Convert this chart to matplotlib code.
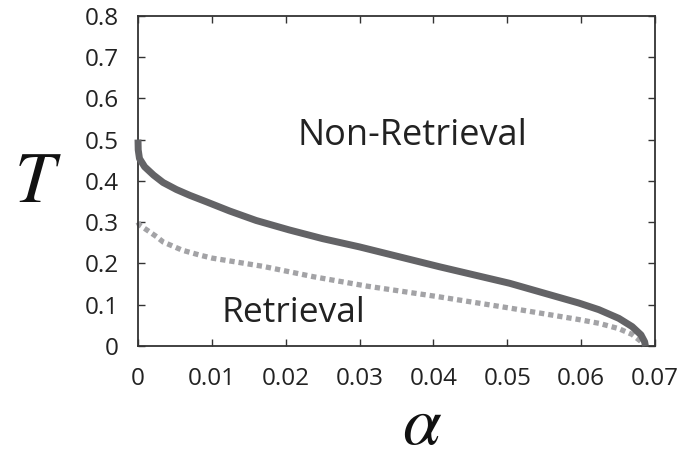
import matplotlib
matplotlib.use("Agg")
import matplotlib.pyplot as plt

# Solid boundary
alpha_solid = [0.0, 0.00003, 0.0002, 0.0009, 0.0021, 0.0034, 0.0052, 0.0070,
               0.0093, 0.0124, 0.0160, 0.0205, 0.0250, 0.030, 0.0408, 0.0503,
               0.0597, 0.0624, 0.0651, 0.0669, 0.0681, 0.0686, 0.0687]
T_solid = [0.500, 0.475, 0.454, 0.434, 0.414, 0.396, 0.379, 0.365,
           0.349, 0.327, 0.304, 0.281, 0.260, 0.240, 0.192, 0.152,
           0.104, 0.088, 0.067, 0.047, 0.027, 0.010, 0.0]

# Dotted boundary
alpha_dot = [0.0, 0.0002, 0.0012, 0.0025, 0.0034, 0.0060, 0.0084, 0.010,
             0.0169, 0.0237, 0.031, 0.0408, 0.0503, 0.0597, 0.0624, 0.0651,
             0.0669, 0.0681, 0.0685]
T_dot = [0.300, 0.293, 0.281, 0.265, 0.252, 0.232, 0.220, 0.213,
         0.193, 0.168, 0.145, 0.119, 0.092, 0.064, 0.055, 0.042,
         0.028, 0.011, 0.0]

x_ticks = [0, 0.01, 0.02, 0.03, 0.04, 0.05, 0.06, 0.07]
x_tick_labels = ["0", "0.01", "0.02", "0.03", "0.04", "0.05", "0.06", "0.07"]
y_ticks = [0, 0.1, 0.2, 0.3, 0.4, 0.5, 0.6, 0.7, 0.8]
y_tick_labels = ["0", "0.1", "0.2", "0.3", "0.4", "0.5", "0.6", "0.7", "0.8"]

plt.rcParams['mathtext.fontset'] = 'stix'
plt.rcParams['font.family'] = ['Open Sans', 'DejaVu Sans']

fig = plt.figure(figsize=(6.88, 4.62), dpi=100)
ax = fig.add_axes([138/688, 1 - 346/462, (655-138)/688, (346-15.7)/462])

ax.plot(alpha_solid, T_solid, color='#636366', lw=5.0, solid_capstyle='butt',
        solid_joinstyle='round', clip_on=False, zorder=3)
ax.plot(alpha_dot, T_dot, color='#a3a3a6', lw=3.8, dashes=(1.0, 0.75),
        dash_capstyle='butt', dash_joinstyle='round', clip_on=False, zorder=2)

ax.set_xlim(0, 0.07)
ax.set_ylim(0, 0.8)
ax.set_xticks(x_ticks)
ax.set_xticklabels(x_tick_labels)
ax.set_yticks(y_ticks)
ax.set_yticklabels(y_tick_labels)
ax.tick_params(direction='in', length=5, width=1.0, color='#333333',
               top=True, right=True, labelsize=17.5, labelcolor='#222222')
ax.tick_params(axis='x', pad=15)
ax.tick_params(axis='y', pad=14)
for s in ax.spines.values():
    s.set_linewidth(1.3)
    s.set_color('#333333')

ax.text(0.0372, 0.508, "Non-Retrieval", fontsize=26, color='#222222',
        ha='center', va='center')
ax.text(0.0211, 0.080, "Retrieval", fontsize=25.5, color='#222222',
        ha='center', va='center')

fig.text(38/688, 1 - 183/462, r"$T$", fontsize=52, ha='center', va='center',
         color='#111111')
fig.text(422/688, 1/462, r"$\alpha$", fontsize=50, ha='center',
         va='bottom', color='#111111')

fig.savefig("out.png", dpi=100)
